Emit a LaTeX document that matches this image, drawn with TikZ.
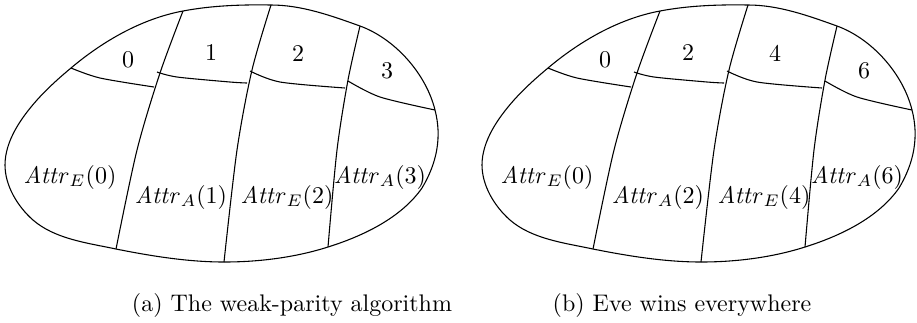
\documentclass[tikz,border=0pt]{standalone}
\newcommand\eggpanel[9]{%
  \coordinate (#1L) at (5,165);    \coordinate (#1A) at (37,100);
  \coordinate (#1d1t) at (183,11); \coordinate (#1d1b) at (116,249);
  \coordinate (#1d2t) at (271,5);  \coordinate (#1d2b) at (224,262);
  \coordinate (#1d3t) at (360,26); \coordinate (#1d3b) at (328,247);
  \coordinate (#1c1s) at (71,68);  \coordinate (#1c4e) at (435,110);
  \coordinate (#1R) at (422,188);  \coordinate (#1B) at (33,220);
  \draw[eggline] (#1L) .. controls (5,141) and (21,118) .. (#1A)
    .. controls (47.5,88.3) and (59,78) .. (#1c1s)
    .. controls (103,41) and (142,18.6) .. (#1d1t)
    .. controls (212,5.5) and (241.6,4.5) .. (#1d2t)
    .. controls (301.5,5) and (331,15.6) .. (#1d3t)
    .. controls (395,38.8) and (426,73.6) .. (#1c4e)
    .. controls (442,137) and (437,163) .. (#1R)
    .. controls (401,218) and (363,236) .. (#1d3b)
    .. controls (295,257.5) and (259,262) .. (#1d2b)
    .. controls (188,262) and (151,256) .. (#1d1b)
    .. controls (87.6,243) and (54.8,239) .. (#1B)
    .. controls (17.5,206.4) and (5,185.6) .. cycle;
  \draw[eggline] plot[smooth] coordinates {(#1d1t) (160,73) (137,150) (#1d1b)};
  \draw[eggline] plot[smooth] coordinates {(#1d2t) (252,70) (237,150) (#1d2b)};
  \draw[eggline] plot[smooth] coordinates {(#1d3t) (348,80) (337,150) (#1d3b)};
  \draw[eggline] plot[smooth] coordinates {(#1c1s) (100,78) (154,87)};
  \draw[eggline] plot[smooth] coordinates {(157,72) (177,77) (230,82) (247,83)};
  \draw[eggline] plot[smooth] coordinates {(250,71) (280,82) (345,88)};
  \draw[eggline] plot[smooth] coordinates {(348,81) (380,97) (#1c4e)};
  \node[lab] (#1t0) at (128,60) {$#2$};
  \node[lab] (#1t1) at (211,53) {$#3$};
  \node[lab] (#1t2) at (298,54) {$#4$};
  \node[lab] (#1t3) at (387,71) {$#5$};
  \node[lab] (#1b0) at (70,177) {$\mathit{Attr}_E(#6)$};
  \node[lab] (#1b1) at (181,197) {$\mathit{Attr}_A(#7)$};
  \node[lab] (#1b2) at (287,197) {$\mathit{Attr}_E(#8)$};
  \node[lab] (#1b3) at (380,177) {$\mathit{Attr}_A(#9)$};
}
\begin{document}
\begin{tikzpicture}[x=0.41667pt,y=-0.41667pt,
  eggline/.style={line width=0.45pt},
  lab/.style={inner sep=0pt}]
\useasboundingbox (0,0) rectangle (917,322);
\eggpanel{a}{0}{1}{2}{3}{0}{1}{2}{3}
\begin{scope}[shift={(477,0)}]
\eggpanel{b}{0}{2}{4}{6}{0}{2}{4}{6}
\end{scope}
\node[lab] (capa) at (292,305) {(a) The weak-parity algorithm};
\node[lab] (capb) at (682,305) {(b) Eve wins everywhere};
\end{tikzpicture}
\end{document}
